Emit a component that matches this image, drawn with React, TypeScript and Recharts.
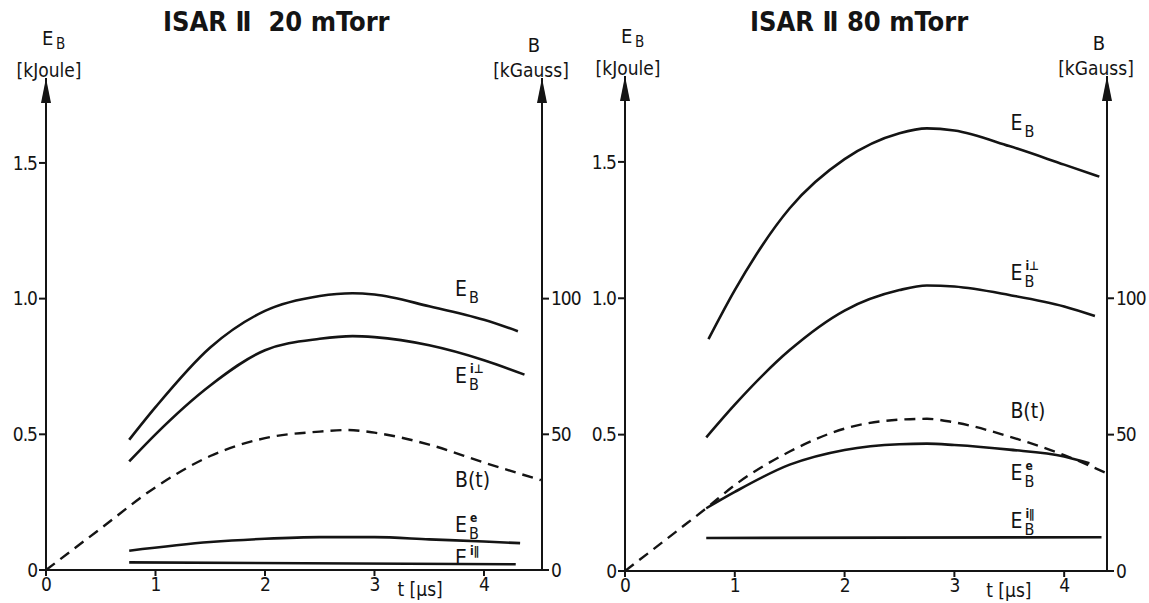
import React from 'react';
import { ComposedChart, Line, XAxis, YAxis, ReferenceDot } from 'recharts';

const FONT = "'DejaVu Sans Condensed', 'Liberation Sans Narrow', 'DejaVu Sans', sans-serif";
const INK = '#141414';

// ISAR II 20 mTorr  (E in kJoule, B in kGauss)
const t20EB = [0.76, 1.0, 1.5, 2.0, 2.5, 2.8, 3.0, 3.5, 4.0, 4.31];
const v20EB = [0.48, 0.6, 0.82, 0.955, 1.01, 1.02, 1.015, 0.972, 0.922, 0.88];
const t20Perp = [0.76, 1.0, 1.5, 2.0, 2.5, 2.8, 3.0, 3.5, 4.0, 4.37];
const v20Perp = [0.4, 0.5, 0.68, 0.81, 0.852, 0.862, 0.858, 0.828, 0.773, 0.72];
const t20B = [0, 0.5, 1.0, 1.5, 2.0, 2.5, 2.75, 3.0, 3.5, 4.0, 4.52];
const v20B = [0, 15.3, 30.5, 42, 48.6, 51, 51.6, 50.6, 46.2, 39.6, 33.1];
const t20E = [0.76, 1.5, 2.0, 2.5, 3.0, 3.5, 4.0, 4.33];
const v20E = [0.071, 0.103, 0.115, 0.121, 0.121, 0.113, 0.105, 0.099];
const t20Par = [0.76, 4.29];
const v20Par = [0.028, 0.021];

// ISAR II 80 mTorr
const t80EB = [0.76, 1.0, 1.5, 2.0, 2.5, 2.75, 3.0, 3.5, 4.0, 4.32];
const v80EB = [0.85, 1.03, 1.33, 1.51, 1.605, 1.623, 1.615, 1.558, 1.49, 1.446];
const t80Perp = [0.74, 1.0, 1.5, 2.0, 2.5, 2.75, 3.0, 3.5, 4.0, 4.28];
const v80Perp = [0.49, 0.61, 0.81, 0.955, 1.03, 1.047, 1.043, 1.012, 0.97, 0.935];
const t80B = [0, 0.5, 0.74, 1.0, 1.5, 2.0, 2.5, 2.75, 3.0, 3.5, 4.0, 4.39];
const v80B = [0, 15.5, 23, 31.5, 43.8, 52.2, 55.5, 55.8, 54.5, 49.3, 42.5, 35.8];
const t80E = [0.74, 1.0, 1.5, 2.0, 2.5, 2.75, 3.0, 3.5, 4.0, 4.23];
const v80E = [0.23, 0.29, 0.39, 0.444, 0.465, 0.467, 0.462, 0.445, 0.42, 0.395];
const t80Par = [0.74, 4.34];
const v80Par = [0.121, 0.124];

const tTicks = [0, 1, 2, 3, 4];
const eTicks = [0, 0.5, 1.0, 1.5];
const bTicks = [0, 50, 100];

const pts = (ts: number[], vs: number[]) => ts.map((t, i) => ({ t, v: vs[i] }));

const CurveLabel = (p: any) => {
  const { cx, cy, text, sub, sup } = p;
  return (
    <g fontFamily={FONT} fill={INK}>
      <text x={cx} y={cy} fontSize={21}>{text}</text>
      {sub && <text x={cx + 14} y={cy + 7} fontSize={16}>{sub}</text>}
      {sup && <text x={cx + 15} y={cy - 10} fontSize={12} fontWeight="bold">{sup}</text>}
    </g>
  );
};

const AxisHead = (p: any) => {
  const { cx, cy, kind } = p;
  return (
    <g fontFamily={FONT} fill={INK}>
      <polygon points={`${cx},${cy} ${cx - 5},${cy + 25} ${cx + 5},${cy + 25}`} />
      {kind === 'E' ? (
        <>
          <text x={cx + 3} y={cy - 1} fontSize={19} textAnchor="middle">[kJoule]</text>
          <text x={cx - 4} y={cy - 33} fontSize={20}>E</text>
          <text x={cx + 10} y={cy - 29} fontSize={15}>B</text>
        </>
      ) : (
        <>
          <text x={cx - 11} y={cy - 1} fontSize={19} textAnchor="middle">[kGauss]</text>
          <text x={cx - 8} y={cy - 26} fontSize={20} textAnchor="middle">B</text>
        </>
      )}
    </g>
  );
};

type Lbl = { t: number; v: number; text: string; sub?: string; sup?: string };

type PanelProps = {
  left: number;
  width: number;
  title: string;
  titleLeft: number;
  margin: { top: number; right: number; bottom: number; left: number };
  tMax: number;
  eMax: number;
  eb: { t: number; v: number }[];
  perp: { t: number; v: number }[];
  bField: { t: number; v: number }[];
  ee: { t: number; v: number }[];
  par: { t: number; v: number }[];
  labels: Lbl[];
  tLabelAt: number;
};

const tickStyle = { fill: INK, fontSize: 19, fontFamily: FONT, letterSpacing: -1 };
const axisStyle = { stroke: INK, strokeWidth: 2 };

const Panel = (p: PanelProps) => (
  <div style={{ position: 'absolute', left: p.left, top: 0, width: p.width, height: 603 }}>
    <div
      style={{
        position: 'absolute', left: p.titleLeft - p.left, top: 6, fontFamily: FONT,
        fontWeight: 'bold', fontSize: 27, color: INK, whiteSpace: 'pre', zIndex: 2,
      }}
    >
      {p.title}
    </div>
    <ComposedChart width={p.width} height={603} margin={p.margin}>
      <XAxis
        type="number" dataKey="t" domain={[0, p.tMax]} ticks={tTicks} allowDataOverflow
        axisLine={axisStyle} tickLine={axisStyle} tickSize={6} tick={tickStyle} height={30}
        tickFormatter={(v: number) => String(v)}
      />
      <YAxis
        yAxisId="e" orientation="left" domain={[0, p.eMax]} ticks={eTicks} allowDataOverflow
        axisLine={axisStyle} tickLine={axisStyle} tickSize={7} tick={tickStyle} width={40}
        tickFormatter={(v: number) => (v === 0 ? '0' : v.toFixed(1))}
      />
      <YAxis
        yAxisId="b" orientation="right" domain={[0, p.eMax * 100]} ticks={bTicks} allowDataOverflow
        axisLine={axisStyle} tickLine={axisStyle} tickSize={7} tick={tickStyle} width={40}
      />
      <Line data={p.eb} yAxisId="e" dataKey="v" type="monotone" stroke={INK} strokeWidth={2.6} dot={false} activeDot={false} isAnimationActive={false} />
      <Line data={p.perp} yAxisId="e" dataKey="v" type="monotone" stroke={INK} strokeWidth={2.6} dot={false} activeDot={false} isAnimationActive={false} />
      <Line data={p.bField} yAxisId="b" dataKey="v" type="monotone" stroke={INK} strokeWidth={2.4} strokeDasharray="11 7" dot={false} activeDot={false} isAnimationActive={false} />
      <Line data={p.ee} yAxisId="e" dataKey="v" type="monotone" stroke={INK} strokeWidth={2.6} dot={false} activeDot={false} isAnimationActive={false} />
      <Line data={p.par} yAxisId="e" dataKey="v" type="linear" stroke={INK} strokeWidth={2.6} dot={false} activeDot={false} isAnimationActive={false} />
      <ReferenceDot x={0} y={p.eMax} yAxisId="e" ifOverflow="visible" shape={(s: any) => <AxisHead cx={s.cx} cy={s.cy} kind="E" />} />
      <ReferenceDot x={p.tMax} y={p.eMax} yAxisId="e" ifOverflow="visible" shape={(s: any) => <AxisHead cx={s.cx} cy={s.cy} kind="B" />} />
      <ReferenceDot
        x={p.tLabelAt} y={0} yAxisId="e" ifOverflow="visible"
        shape={(s: any) => (
          <text x={s.cx} y={s.cy + 26} fontFamily={FONT} fontSize={19} fill={INK}>t [µs]</text>
        )}
      />
      {p.labels.map((l, i) => (
        <ReferenceDot
          key={i} x={l.t} y={l.v} yAxisId="e" ifOverflow="visible"
          shape={(s: any) => <CurveLabel cx={s.cx} cy={s.cy} text={l.text} sub={l.sub} sup={l.sup} />}
        />
      ))}
    </ComposedChart>
  </div>
);

export default function App() {
  return (
    <div style={{ position: 'fixed', left: 0, top: 0, width: 1149, height: 603, background: '#fff', overflow: 'hidden' }}>
      <Panel
        left={0} width={600} title="ISAR Ⅱ  20 mTorr" titleLeft={163}
        margin={{ top: 78, right: 18, bottom: 3, left: 6 }}
        tMax={4.53} eMax={1.813}
        eb={pts(t20EB, v20EB)} perp={pts(t20Perp, v20Perp)} bField={pts(t20B, v20B)}
        ee={pts(t20E, v20E)} par={pts(t20Par, v20Par)}
        tLabelAt={3.21}
        labels={[
          { t: 3.735, v: 1.01, text: 'E', sub: 'B' },
          { t: 3.735, v: 0.69, text: 'E', sub: 'B', sup: 'i⊥' },
          { t: 3.735, v: 0.306, text: 'B(t)' },
          { t: 3.735, v: 0.14, text: 'E', sub: 'B', sup: 'e' },
          { t: 3.735, v: 0.02, text: 'E', sup: 'i∥' },
        ]}
      />
      <Panel
        left={580} width={569} title="ISAR Ⅱ 80 mTorr" titleLeft={750}
        margin={{ top: 76, right: 2, bottom: 2, left: 5 }}
        tMax={4.39} eMax={1.815}
        eb={pts(t80EB, v80EB)} perp={pts(t80Perp, v80Perp)} bField={pts(t80B, v80B)}
        ee={pts(t80E, v80E)} par={pts(t80Par, v80Par)}
        tLabelAt={3.29}
        labels={[
          { t: 3.51, v: 1.617, text: 'E', sub: 'B' },
          { t: 3.51, v: 1.067, text: 'E', sub: 'B', sup: 'i⊥' },
          { t: 3.51, v: 0.561, text: 'B(t)' },
          { t: 3.51, v: 0.334, text: 'E', sub: 'B', sup: 'e' },
          { t: 3.51, v: 0.158, text: 'E', sub: 'B', sup: 'i∥' },
        ]}
      />
    </div>
  );
}
